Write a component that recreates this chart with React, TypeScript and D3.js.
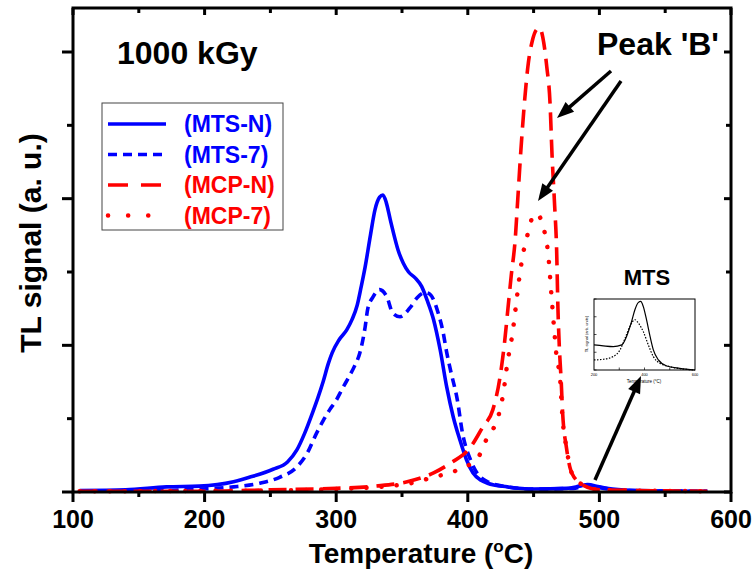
import React from "react";
import * as d3 from "d3";

// ---- data ----
const X_TICKS_MAJOR = [100, 200, 300, 400, 500, 600];
const X_TICKS_MINOR = [150, 250, 350, 450, 550];
const Y_TICKS_MAJOR = [0, 2, 4, 6];
const Y_TICKS_MINOR = [1, 3, 5];

const MTS_N_T = [105,140,171,196,222,234,252,263,270,276,282,286,290,294,297,302,308,312,316,319,322,326,329.5,333,335.5,338,341,343,347,351,355,360,365,369,374,379,384,389,394,399,404,410,415,430,450,475,485,491,500,510,530,582];
const MTS_N_V = [0.02,0.03,0.07,0.08,0.14,0.2,0.31,0.41,0.57,0.8,1.08,1.28,1.5,1.75,1.9,2.07,2.21,2.35,2.55,2.8,3.07,3.5,3.85,4.02,4.05,3.95,3.72,3.57,3.3,3.12,3.0,2.92,2.8,2.62,2.35,1.94,1.43,1.02,0.71,0.44,0.26,0.16,0.12,0.07,0.04,0.05,0.08,0.1,0.07,0.04,0.02,0.01];

const MTS_7_T = [105,170,196,222,242,257,270,278,285,290,295,300,305,310,314,318,322,324,328,333,338.5,343,348.5,356,361.5,367.5,371,374,377.5,381,384,387,392,396,402,407,415,430,450,480,491,500,520,582];
const MTS_7_V = [0.01,0.02,0.04,0.07,0.12,0.2,0.34,0.53,0.8,0.97,1.12,1.25,1.42,1.58,1.72,1.9,2.25,2.5,2.66,2.76,2.66,2.44,2.39,2.51,2.65,2.72,2.7,2.62,2.44,2.2,1.9,1.65,1.26,0.8,0.44,0.26,0.14,0.07,0.04,0.05,0.09,0.06,0.02,0.01];

const MCP_N_T = [105,200,250,300,330,354,374,386.5,402,411.5,419,424.5,428,430.5,433,436,438,440,443,446,449,452,454.5,457,460,462.5,464,466,467.5,468.5,469.5,471,472,475,479,488,500,582];
const MCP_N_V = [0.01,0.01,0.03,0.05,0.08,0.14,0.26,0.39,0.61,0.89,1.12,1.57,2.05,2.5,2.95,3.44,4.0,4.57,5.3,5.85,6.15,6.3,6.33,6.2,5.8,5.3,4.6,3.9,3.3,2.5,2.0,1.5,1.1,0.6,0.26,0.09,0.03,0.01];

const MCP_7_T = [105,250,300,340,362,373,388,408,415,423,427,430,434,436,439,442,445,449,452.5,455,458.5,461,463.5,466,467.5,470,472,475,479,488,500,582];
const MCP_7_V = [0.01,0.02,0.04,0.08,0.14,0.2,0.27,0.48,0.75,1.02,1.35,1.75,2.17,2.45,2.9,3.25,3.48,3.74,3.8,3.74,3.53,3.26,2.7,2.14,1.84,1.57,1.0,0.6,0.26,0.09,0.03,0.01];

// inset (MTS, normalised)
const INSET_SOLID_T = [200,237,276,310,329,349,362,376,385,395,408,422,435,455,488,540,600];
const INSET_SOLID_V = [0.354,0.34,0.33,0.354,0.472,0.684,0.849,0.953,0.967,0.896,0.708,0.472,0.283,0.142,0.057,0.024,0];
const INSET_DOT_T = [200,237,276,303,323,342,362,376,395,415,435,461,501,600];
const INSET_DOT_V = [0.142,0.151,0.189,0.283,0.448,0.613,0.708,0.66,0.542,0.354,0.189,0.094,0.047,0];
const INSET_X_LABELS = [200, 400, 600];

const LEGEND = [
  { label: "(MTS-N)", color: "#0000ff", dash: "none", cap: "butt" },
  { label: "(MTS-7)", color: "#0000ff", dash: "9,6", cap: "butt" },
  { label: "(MCP-N)", color: "#ff0000", dash: "20,13", cap: "butt" },
  { label: "(MCP-7)", color: "#ff0000", dash: "0.1,20", cap: "round" },
];

const FONT = "'Liberation Sans', Arial, Helvetica, sans-serif";

function arrow(x1: number, y1: number, x2: number, y2: number, len = 17, hw = 6.5) {
  const dx = x2 - x1, dy = y2 - y1;
  const L = Math.hypot(dx, dy);
  const ux = dx / L, uy = dy / L;
  const bx = x2 - ux * len, by = y2 - uy * len;
  const px = -uy, py = ux;
  return {
    line: [x1, y1, bx + ux * 2, by + uy * 2],
    head: `${x2},${y2} ${bx + px * hw},${by + py * hw} ${bx - px * hw},${by - py * hw}`,
  };
}

export default function App() {
  const x = d3.scaleLinear().domain([100, 600]).range([73, 731]);
  const y = d3.scaleLinear().domain([0, 6]).range([492, 52]);
  const top = 8;

  const mk = (T: number[], V: number[]) =>
    d3.line<number>().x((_, i) => x(T[i])).y((_, i) => y(V[i])).curve(d3.curveMonotoneX)(V) as string;

  const series = [
    { d: mk(MTS_N_T, MTS_N_V), ...LEGEND[0] },
    { d: mk(MTS_7_T, MTS_7_V), ...LEGEND[1] },
    { d: mk(MCP_N_T, MCP_N_V), ...LEGEND[2] },
    { d: mk(MCP_7_T, MCP_7_V), ...LEGEND[3] },
  ];

  // inset scales
  const ix = d3.scaleLinear().domain([200, 600]).range([594, 695]);
  const iy = d3.scaleLinear().domain([0, 1]).range([370, 299]);
  const imk = (T: number[], V: number[]) =>
    d3.line<number>().x((_, i) => ix(T[i])).y((_, i) => iy(V[i])).curve(d3.curveMonotoneX)(V) as string;

  const a1 = arrow(611, 71, 557, 118);
  const a2 = arrow(621, 81, 538, 201);
  const a3 = arrow(595, 480, 641, 376);

  return (
    <svg width={755} height={572} style={{ position: "absolute", left: 0, top: 0, background: "#fff" }} fontFamily={FONT}>
      <rect x={0} y={0} width={755} height={572} fill="#fff" />
      {/* curves */}
      {series.map((s, i) => (
        <path key={i} d={s.d} fill="none" stroke={s.color} strokeWidth={i === 3 ? 4.5 : 3.6}
          strokeDasharray={s.dash === "none" ? undefined : (i === 3 ? "0.1,15" : i === 2 ? "18,9" : s.dash)}
          strokeLinecap={s.cap as any} strokeLinejoin="round" />
      ))}

      {/* frame */}
      <rect x={x(100)} y={top} width={x(600) - x(100)} height={y(0) - top} fill="none" stroke="#000" strokeWidth={3} />
      {/* bottom ticks (outward) */}
      {X_TICKS_MAJOR.map((t) => (
        <line key={"bM" + t} x1={x(t)} x2={x(t)} y1={y(0)} y2={y(0) + 10} stroke="#000" strokeWidth={3} />
      ))}
      {X_TICKS_MINOR.map((t) => (
        <line key={"bm" + t} x1={x(t)} x2={x(t)} y1={y(0)} y2={y(0) + 5} stroke="#000" strokeWidth={3} />
      ))}
      {/* top ticks (inward) */}
      {X_TICKS_MAJOR.map((t) => (
        <line key={"tM" + t} x1={x(t)} x2={x(t)} y1={top} y2={top + 7} stroke="#000" strokeWidth={3} />
      ))}
      {X_TICKS_MINOR.map((t) => (
        <line key={"tm" + t} x1={x(t)} x2={x(t)} y1={top} y2={top + 5} stroke="#000" strokeWidth={3} />
      ))}
      {/* left ticks (outward) */}
      {Y_TICKS_MAJOR.map((t) => (
        <line key={"lM" + t} x1={x(100) - 11} x2={x(100)} y1={y(t)} y2={y(t)} stroke="#000" strokeWidth={3} />
      ))}
      {Y_TICKS_MINOR.map((t) => (
        <line key={"lm" + t} x1={x(100) - 6} x2={x(100)} y1={y(t)} y2={y(t)} stroke="#000" strokeWidth={3} />
      ))}
      {/* right ticks (inward) */}
      {Y_TICKS_MAJOR.map((t) => (
        <line key={"rM" + t} x1={x(600) - 7} x2={x(600)} y1={y(t)} y2={y(t)} stroke="#000" strokeWidth={3} />
      ))}
      {Y_TICKS_MINOR.map((t) => (
        <line key={"rm" + t} x1={x(600) - 5} x2={x(600)} y1={y(t)} y2={y(t)} stroke="#000" strokeWidth={3} />
      ))}

      {/* x tick labels */}
      {X_TICKS_MAJOR.map((t) => (
        <text key={"xl" + t} x={x(t)} y={528} textAnchor="middle" fontSize={25} fontWeight="bold">{t}</text>
      ))}
      {/* axis titles */}
      <text x={(x(100) + x(600)) / 2 + 19} y={563} textAnchor="middle" fontSize={28} fontWeight="bold">
        Temperature (<tspan fontSize={17} dy={-11}>o</tspan><tspan dy={11}>C)</tspan>
      </text>
      <text transform={`translate(41,243) rotate(-90)`} textAnchor="middle" fontSize={30} fontWeight="bold">TL signal (a. u.)</text>

      {/* annotations */}
      <text x={117} y={64} fontSize={32} fontWeight="bold">1000 kGy</text>
      <text x={597} y={55} fontSize={32} fontWeight="bold">Peak 'B'</text>

      {/* legend */}
      <rect x={102} y={103} width={181} height={127} fill="#fff" stroke="#444" strokeWidth={1} />
      {LEGEND.map((l, i) => {
        const ly = 124 + i * 30.5;
        return (
          <g key={l.label}>
            <line x1={108} x2={166} y1={ly} y2={ly} stroke={l.color} strokeWidth={l.cap === "round" ? 4.5 : 3.6}
              strokeDasharray={l.dash === "none" ? undefined : l.dash} strokeLinecap={l.cap as any} />
            <text x={184} y={ly + 8} fontSize={23} fontWeight="bold" fill={l.color}>{l.label}</text>
          </g>
        );
      })}

      {/* arrows */}
      {[a1, a2, a3].map((a, i) => (
        <g key={"a" + i}>
          <line x1={a.line[0]} y1={a.line[1]} x2={a.line[2]} y2={a.line[3]} stroke="#000" strokeWidth={3.5} />
          <polygon points={a.head} fill="#000" />
        </g>
      ))}

      {/* inset */}
      <text x={647} y={285} textAnchor="middle" fontSize={22} fontWeight="bold">MTS</text>
      <rect x={594} y={299} width={101} height={71} fill="#fff" stroke="#000" strokeWidth={1} />
      {[0, 0.25, 0.5, 0.75, 1].map((t) => (
        <line key={"il" + t} x1={594} x2={596.5} y1={iy(t)} y2={iy(t)} stroke="#000" strokeWidth={0.7} />
      ))}
      {[300, 400, 500].map((t) => (
        <line key={"ib" + t} x1={ix(t)} x2={ix(t)} y1={370} y2={367.5} stroke="#000" strokeWidth={0.7} />
      ))}
      {INSET_X_LABELS.map((t) => (
        <text key={"ixl" + t} x={ix(t)} y={376} textAnchor="middle" fontSize={4}>{t}</text>
      ))}
      <text x={644} y={383} textAnchor="middle" fontSize={4.5}>Temperature (°C)</text>
      <text transform="translate(588,334) rotate(-90)" textAnchor="middle" fontSize={4}>TL signal (arb. units)</text>
      <path d={imk(INSET_SOLID_T, INSET_SOLID_V)} fill="none" stroke="#000" strokeWidth={1.2} />
      <path d={imk(INSET_DOT_T, INSET_DOT_V)} fill="none" stroke="#000" strokeWidth={1.2} strokeDasharray="1.5,1.5" />
    </svg>
  );
}
